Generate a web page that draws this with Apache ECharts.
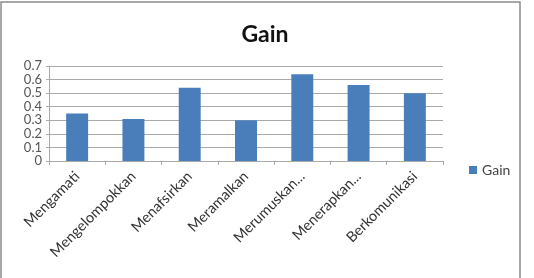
<!DOCTYPE html>
<html><head><meta charset="utf-8">
<script src="https://cdn.jsdelivr.net/npm/echarts@6/dist/echarts.min.js"></script>
<style>html,body{margin:0;padding:0;background:#fff}#c{width:534px;height:278px}</style>
</head><body><div id="c"></div>
<script>
const categories = ["Mengamati","Mengelompokkan","Menafsirkan","Meramalkan","Merumuskan...","Menerapkan...","Berkomunikasi"];
const gainValues = [0.35,0.31,0.54,0.30,0.64,0.56,0.50];
const yTicks = {min:0,max:0.7,interval:0.1};
const chart = echarts.init(document.getElementById('c'));
chart.setOption({
  animation:false,
  backgroundColor:'#fff',
  textStyle:{fontFamily:'Lato'},
  graphic:[{type:'rect',shape:{x:1,y:2,width:519,height:290},style:{fill:'none',stroke:'#8c8c8c',lineWidth:1.5}}],
  title:{text:'Gain',left:260,top:18,textAlign:'center',textStyle:{fontFamily:'Lato',fontSize:23,fontWeight:'bold',color:'#111'}},
  legend:{data:['Gain'],left:464,top:158,itemWidth:8,itemHeight:8,itemGap:4,icon:'rect',textStyle:{fontFamily:'Lato',fontSize:14,color:'#444'}},
  grid:{left:49,right:91,top:66,bottom:117},
  xAxis:{type:'category',data:categories,
    axisLine:{lineStyle:{color:'#aaa'}},
    axisTick:{show:true,length:4,lineStyle:{color:'#aaa'}},
    axisLabel:{rotate:45,fontFamily:'Lato',fontSize:14.5,color:'#333',margin:13,interval:0}},
  yAxis:{type:'value',min:yTicks.min,max:yTicks.max,interval:yTicks.interval,
    axisLine:{show:true,lineStyle:{color:'#aaa'}},
    axisTick:{show:true,length:3,lineStyle:{color:'#aaa'}},
    splitLine:{lineStyle:{color:'#aaa'}},
    axisLabel:{fontFamily:'Lato',fontSize:13,lineHeight:10,color:'#555',margin:7,interval:0,showMinLabel:true,showMaxLabel:true,hideOverlap:false,formatter:v=>String(+v.toFixed(1))}},
  series:[{name:'Gain',type:'bar',data:gainValues,barWidth:'39%',itemStyle:{color:'#4a7ebb'}}]
});
</script></body></html>
